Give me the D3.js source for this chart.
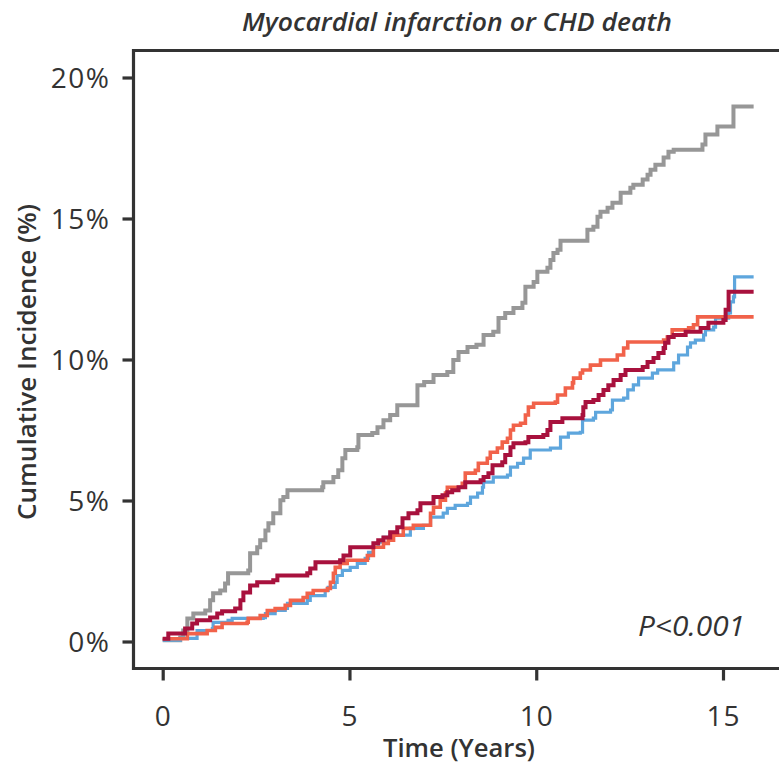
<!DOCTYPE html>
<html>
<head>
<meta charset="utf-8">
<script src="https://cdn.jsdelivr.net/npm/d3@7"></script>
<style>
  html, body { margin: 0; padding: 0; background: #fff; }
  svg { display: block; }
  text { font-family: "Open Sans", "Noto Sans", sans-serif; fill: #333; }
</style>
</head>
<body>
<svg id="chart" width="779" height="766"></svg>
<script>
// ---------- data (years, cumulative incidence %) ----------
const xTicks = [0, 5, 10, 15];
const yTicks = [0, 5, 10, 15, 20];
const endTime = 15.82;

const grayTimes = [0, 0.47, 0.55, 0.66, 0.82, 1.14, 1.27, 1.35, 1.54, 1.67, 1.75, 2.29, 2.34, 2.53, 2.61, 2.75, 2.83, 2.96, 3.15, 3.23, 3.34, 4.27, 4.30, 4.57, 4.70, 4.81, 4.89, 5.21, 5.24, 5.61, 5.75, 5.91, 6.09, 6.28, 6.82, 7.00, 7.25, 7.62, 7.78, 7.92, 8.16, 8.40, 8.59, 8.85, 8.99, 9.17, 9.39, 9.63, 9.71, 9.93, 10.03, 10.30, 10.38, 10.46, 10.57, 10.65, 11.37, 11.53, 11.64, 11.72, 11.91, 12.04, 12.26, 12.52, 12.60, 12.85, 12.98, 13.06, 13.19, 13.41, 13.54, 13.68, 14.45, 14.53, 14.85, 15.28];
const grayValues = [0.04, 0.14, 0.39, 0.82, 0.99, 1.10, 1.46, 1.71, 1.81, 2.06, 2.42, 2.52, 3.13, 3.34, 3.59, 3.94, 4.19, 4.55, 5.01, 5.12, 5.36, 5.47, 5.65, 5.83, 6.07, 6.50, 6.79, 6.89, 7.32, 7.39, 7.60, 7.85, 8.03, 8.38, 9.09, 9.20, 9.45, 9.56, 9.98, 10.27, 10.44, 10.52, 10.87, 10.98, 11.47, 11.65, 11.83, 12.01, 12.58, 12.75, 13.11, 13.25, 13.53, 13.78, 13.89, 14.21, 14.60, 14.71, 15.06, 15.24, 15.38, 15.56, 15.91, 16.09, 16.20, 16.38, 16.55, 16.73, 16.91, 17.16, 17.37, 17.44, 17.62, 17.98, 18.26, 18.97];

const blueTimes = [0, 0.47, 0.92, 1.33, 1.35, 1.75, 1.86, 2.69, 2.75, 3.01, 3.28, 3.34, 3.87, 3.95, 4.35, 4.43, 4.62, 4.67, 4.81, 5.02, 5.21, 5.42, 5.51, 5.64, 5.77, 5.91, 6.09, 6.63, 6.98, 7.17, 7.51, 7.62, 7.83, 8.16, 8.24, 8.43, 8.56, 8.59, 8.85, 9.23, 9.31, 9.50, 9.66, 9.84, 10.38, 10.65, 10.86, 11.18, 11.24, 11.53, 11.59, 11.99, 12.04, 12.34, 12.45, 12.60, 12.74, 13.11, 13.25, 13.68, 13.81, 14.05, 14.13, 14.26, 14.48, 14.53, 14.75, 14.80, 15.15, 15.20, 15.28, 15.31];
const blueValues = [0.05, 0.11, 0.39, 0.46, 0.68, 0.75, 0.82, 0.85, 0.99, 1.10, 1.17, 1.35, 1.46, 1.63, 1.81, 1.92, 2.10, 2.34, 2.52, 2.63, 2.77, 2.95, 3.16, 3.34, 3.52, 3.69, 3.77, 4.01, 4.12, 4.41, 4.55, 4.72, 4.83, 4.90, 5.12, 5.26, 5.47, 5.65, 5.83, 5.90, 6.18, 6.32, 6.50, 6.79, 6.86, 7.25, 7.39, 7.42, 7.85, 7.92, 8.13, 8.21, 8.56, 8.63, 8.92, 9.10, 9.34, 9.52, 9.63, 9.88, 10.16, 10.44, 10.59, 10.69, 10.87, 11.05, 11.15, 11.47, 11.65, 12.04, 12.22, 12.93];

const orangeTimes = [0, 0.66, 1.19, 1.41, 1.59, 2.26, 2.29, 2.61, 2.80, 3.01, 3.28, 3.42, 3.76, 3.87, 4.03, 4.41, 4.49, 4.57, 4.62, 4.75, 4.94, 5.48, 5.64, 5.91, 6.04, 6.18, 6.44, 6.71, 7.17, 7.25, 7.43, 7.57, 7.62, 8.02, 8.10, 8.37, 8.45, 8.69, 8.77, 8.96, 9.09, 9.23, 9.31, 9.39, 9.58, 9.71, 9.79, 9.93, 10.51, 10.57, 10.78, 10.97, 11.00, 11.18, 11.24, 11.45, 11.72, 12.17, 12.34, 12.45, 13.41, 13.51, 13.64, 14.08, 14.21, 14.32];
const orangeValues = [0.10, 0.28, 0.39, 0.50, 0.64, 0.68, 0.82, 0.92, 1.10, 1.17, 1.28, 1.46, 1.56, 1.71, 1.81, 1.88, 2.10, 2.42, 2.63, 2.77, 2.88, 3.05, 3.34, 3.48, 3.59, 3.77, 4.01, 4.12, 4.55, 4.76, 5.01, 5.26, 5.47, 5.61, 5.97, 6.07, 6.32, 6.50, 6.71, 6.86, 7.07, 7.21, 7.50, 7.67, 7.74, 8.03, 8.31, 8.45, 8.49, 8.74, 8.99, 9.17, 9.34, 9.52, 9.63, 9.80, 9.98, 10.16, 10.41, 10.62, 10.69, 10.80, 11.05, 11.12, 11.23, 11.51];

const maroonTimes = [0, 0.15, 0.60, 0.79, 0.92, 1.27, 1.46, 1.59, 1.94, 2.08, 2.16, 2.34, 2.53, 2.96, 3.07, 3.87, 3.95, 4.09, 4.75, 4.84, 5.02, 5.64, 5.77, 5.91, 6.09, 6.28, 6.42, 6.58, 6.82, 6.90, 7.25, 7.49, 7.62, 7.75, 7.92, 8.10, 8.51, 8.59, 8.72, 8.83, 9.09, 9.17, 9.31, 9.39, 9.71, 9.79, 10.19, 10.30, 10.38, 10.70, 11.24, 11.26, 11.32, 11.53, 11.67, 11.80, 11.93, 12.07, 12.26, 12.39, 12.85, 12.98, 13.14, 13.27, 13.41, 13.45, 13.54, 13.68, 14.00, 14.40, 14.61, 15.01, 15.07, 15.15];
const maroonValues = [0.10, 0.28, 0.46, 0.64, 0.75, 0.85, 0.99, 1.07, 1.17, 1.46, 1.74, 1.99, 2.10, 2.17, 2.34, 2.42, 2.59, 2.81, 2.88, 3.05, 3.34, 3.48, 3.59, 3.69, 3.87, 4.05, 4.37, 4.55, 4.65, 4.90, 5.12, 5.19, 5.29, 5.36, 5.47, 5.65, 5.72, 5.83, 5.97, 6.25, 6.36, 6.61, 6.89, 7.03, 7.07, 7.25, 7.32, 7.50, 7.78, 7.92, 8.03, 8.31, 8.49, 8.56, 8.74, 8.92, 9.09, 9.27, 9.45, 9.63, 9.73, 9.91, 10.05, 10.23, 10.41, 10.59, 10.80, 10.87, 10.98, 11.12, 11.30, 11.40, 11.76, 12.40];

const seriesList = [
  { name: "gray",   times: grayTimes,   values: grayValues,   color: "#979797", width: 4 },
  { name: "blue",   times: blueTimes,   values: blueValues,   color: "#5ea6dd", width: 3.2 },
  { name: "orange", times: orangeTimes, values: orangeValues, color: "#f1624a", width: 3.6 },
  { name: "maroon", times: maroonTimes, values: maroonValues, color: "#a8113d", width: 4 }
];

// ---------- layout ----------
const svg = d3.select("#chart");
const frame = { left: 133.5, top: 50.5, bottom: 668.5, right: 820 };

const x = d3.scaleLinear().domain([0, 15]).range([162.7, 723]);
const y = d3.scaleLinear().domain([0, 20]).range([641.5, 77.5]);

// frame (right side extends beyond the visible area)
svg.append("path")
  .attr("d", `M${frame.right},${frame.top}H${frame.left}V${frame.bottom}H${frame.right}`)
  .attr("fill", "none").attr("stroke", "#333").attr("stroke-width", 3.2);

// y axis
const yAxis = svg.append("g").attr("transform", `translate(${frame.left},0)`)
  .call(d3.axisLeft(y).tickValues(yTicks).tickFormat(d => d + "%").tickSize(11).tickPadding(12));
yAxis.select(".domain").remove();
yAxis.selectAll(".tick line").attr("stroke", "#333").attr("stroke-width", 3.2);
yAxis.selectAll(".tick text")
  .attr("font-family", "Open Sans, sans-serif").attr("font-size", 28).attr("fill", "#333")
  .attr("letter-spacing", 1.5).attr("dy", "0.36em");

// x axis
const xAxis = svg.append("g").attr("transform", `translate(0,${frame.bottom})`)
  .call(d3.axisBottom(x).tickValues(xTicks).tickSize(12).tickPadding(12));
xAxis.select(".domain").remove();
xAxis.selectAll(".tick line").attr("stroke", "#333").attr("stroke-width", 3.2);
xAxis.selectAll(".tick text")
  .attr("font-family", "Open Sans, sans-serif").attr("font-size", 28).attr("fill", "#333")
  .attr("y", 47).attr("dy", "0.36em").attr("letter-spacing", 1);

// curves
const line = d3.line()
  .x(d => x(d[0]))
  .y(d => y(d[1]))
  .curve(d3.curveStepAfter);

const g = svg.append("g");
seriesList.forEach(s => {
  const pts = s.times.map((t, i) => [t, s.values[i]]);
  pts.push([endTime, s.values[s.values.length - 1]]);
  g.append("path")
    .datum(pts)
    .attr("d", line)
    .attr("fill", "none")
    .attr("stroke", s.color)
    .attr("stroke-width", s.width)
    .attr("stroke-linejoin", "miter")
    .attr("stroke-linecap", "butt");
});

// texts
svg.append("text")
  .attr("x", 457).attr("y", 31)
  .attr("text-anchor", "middle")
  .attr("font-size", 26).attr("font-style", "italic").attr("font-weight", 600)
  .attr("textLength", 430).attr("lengthAdjust", "spacingAndGlyphs")
  .text("Myocardial infarction or CHD death");

svg.append("text")
  .attr("x", 459).attr("y", 757)
  .attr("text-anchor", "middle")
  .attr("font-size", 26).attr("font-weight", 600)
  .attr("textLength", 152).attr("lengthAdjust", "spacingAndGlyphs")
  .text("Time (Years)");

svg.append("text")
  .attr("transform", "translate(36,362) rotate(-90)")
  .attr("text-anchor", "middle")
  .attr("font-size", 26).attr("font-weight", 600)
  .attr("textLength", 316).attr("lengthAdjust", "spacingAndGlyphs")
  .text("Cumulative Incidence (%)");

svg.append("text")
  .attr("x", 745).attr("y", 636)
  .attr("text-anchor", "end")
  .attr("font-size", 27).attr("font-style", "italic")
  .attr("textLength", 107).attr("lengthAdjust", "spacingAndGlyphs")
  .text("P<0.001");
</script>
</body>
</html>
